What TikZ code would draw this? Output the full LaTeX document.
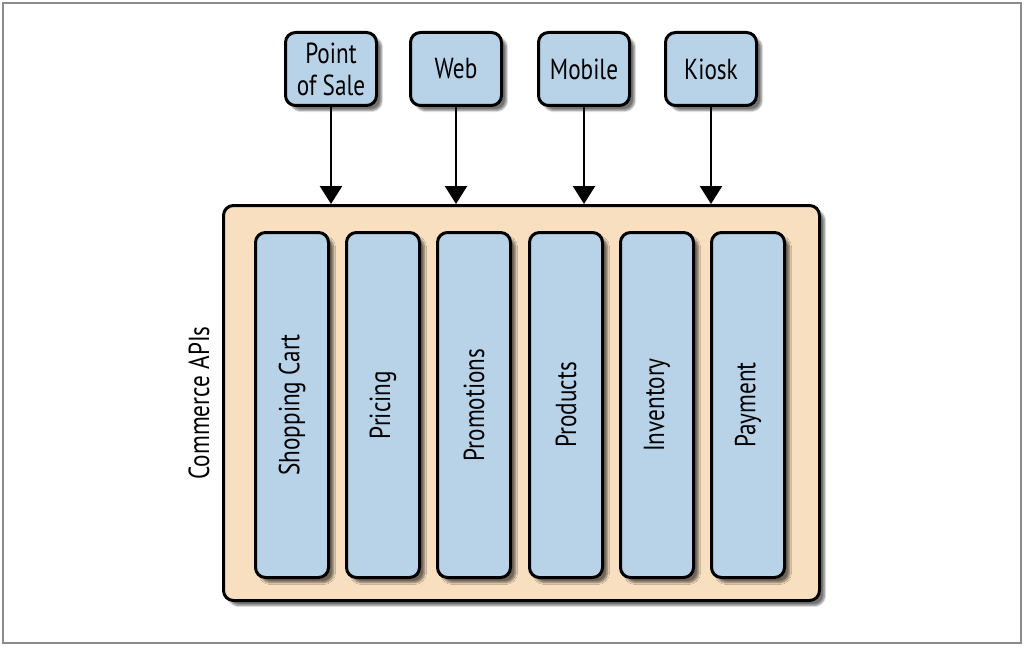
\documentclass[tikz,border=0pt]{standalone}
\usepackage{fontspec}
\setmainfont{PT Sans}[FakeStretch=0.8]
\usetikzlibrary{positioning,calc,arrows.meta,shadows.blur}

\definecolor{chanblue}{HTML}{B8D2E8}
\definecolor{apipeach}{HTML}{F8DFC0}

\begin{document}
\begin{tikzpicture}[x=1pt,y=-1pt,
        box/.style={rectangle,draw=black,line width=3pt,rounded corners=10pt,
            blur shadow={shadow xshift=5pt,shadow yshift=-5pt,shadow blur steps=8,shadow opacity=55}},
        channel/.style={box,fill=chanblue,minimum width=91pt,minimum height=73pt,align=center,
            font=\fontsize{29}{32}\selectfont},
        service/.style={box,fill=chanblue,minimum width=73pt,minimum height=345pt,
            font=\fontsize{29}{32}\selectfont},
        feed/.style={line width=2.5pt,-{Triangle[length=18pt,width=22pt]}}]
        \useasboundingbox (0,0) rectangle (1024,647);
        \draw[gray!90,line width=2pt] (3,3) rectangle (1021,643);

        \node[channel] (pos) at (331,69) {Point\\of Sale};
        \node[channel] (web) at (456,69) {Web};
        \node[channel] (mobile) at (584,69) {Mobile};
        \node[channel] (kiosk) at (711,69) {Kiosk};

        \node[box,fill=apipeach,minimum width=596pt,minimum height=395pt] (apis) at (521.5,403) {};
        \node[rotate=90,font=\fontsize{29}{32}\selectfont] (apis-label) at ($(apis.west)+(-23,0)$) {Commerce APIs};

        \node[service] (cart) at (292,405) {\rotatebox{90}{Shopping Cart}};
        \node[service] (pricing) at (383,405) {\rotatebox{90}{Pricing}};
        \node[service] (promos) at (474,405) {\rotatebox{90}{Promotions}};
        \node[service] (products) at (566,405) {\rotatebox{90}{Products}};
        \node[service] (inventory) at (657,405) {\rotatebox{90}{Inventory}};
        \node[service] (payment) at (748,405) {\rotatebox{90}{Payment}};

        \draw[feed] (pos.south) -- (pos.south |- apis.north);
        \draw[feed] (web.south) -- (web.south |- apis.north);
        \draw[feed] (mobile.south) -- (mobile.south |- apis.north);
        \draw[feed] (kiosk.south) -- (kiosk.south |- apis.north);
    \end{tikzpicture}
\end{document}
